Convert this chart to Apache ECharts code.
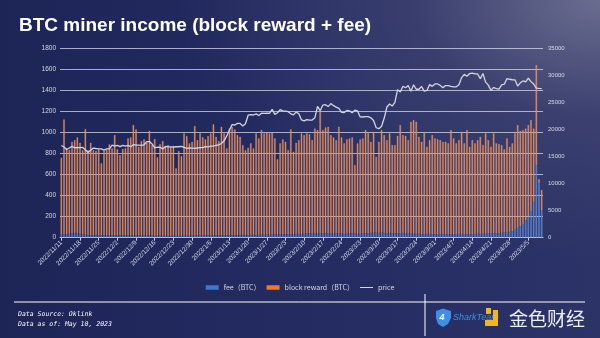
<!DOCTYPE html>
<html>
<head>
<meta charset="utf-8">
<script src="https://cdn.jsdelivr.net/npm/echarts@6/dist/echarts.min.js"></script>
<style>
  html, body { margin: 0; padding: 0; }
  body {
    width: 600px; height: 338px; overflow: hidden;
    background:
      radial-gradient(ellipse 420px 260px at 100% 0%, rgba(110,112,145,0.95) 0%, rgba(70,74,118,0.55) 45%, rgba(0,0,0,0) 100%),
      linear-gradient(90deg, #1d2456 0%, #252c62 55%, #2c3367 100%);
  }
  #chart { width: 600px; height: 338px; }
</style>
</head>
<body>
<div id="chart"></div>
<script>
// Daily categories: 2022/11/11 through 2023/5/10
const startDate = new Date(2022, 10, 11);
const dayCount = 181;
const dates = [];
for (let i = 0; i < dayCount; i++) {
  const d = new Date(startDate.getFullYear(), startDate.getMonth(), startDate.getDate() + i);
  dates.push(d.getFullYear() + '/' + (d.getMonth() + 1) + '/' + d.getDate());
}

// Transaction fees per day (BTC)
const feeBTC = [
  28, 30, 33, 38, 42, 45, 40, 35, 30, 27, 26,
  24, 23, 25, 22, 24, 23, 22, 24, 21, 22, 23, 21, 20, 22, 21, 20, 19, 21, 20, 19,
  18, 19, 20, 18, 17, 18, 19, 17, 18, 17, 16, 18, 17, 16, 17, 18, 19, 17, 18, 19, 20, 18, 19, 20, 21, 19, 20, 21, 22, 21,
  22, 24, 25, 23, 24, 22, 23, 25, 24, 23, 25, 26, 24, 25, 27, 26, 28, 27, 29, 30, 28, 30, 32, 31, 33, 34, 32, 35, 36, 34,
  38, 40, 42, 45, 43, 40, 38, 41, 44, 42, 39, 37, 40, 38, 36, 35, 37, 39, 41, 38, 36, 35, 38, 40, 42,
  44, 46, 48, 45, 47, 44, 42, 45, 43, 41, 40, 42, 44, 41, 39, 38,
  36, 35, 37, 34, 33, 35, 36, 34, 32, 33, 35, 34, 33, 31, 32, 34, 33, 35, 36, 34, 33, 32, 34, 35, 37, 36, 38, 37, 39,
  40, 42, 41, 43, 45, 48,
  48, 55, 62, 75, 95, 110, 130, 165, 200, 250, 340, 692, 520, 260
];

// Block subsidy per day (BTC)
const rewardBTC = [
  734, 1097, 818, 797, 872, 885, 916, 870, 805, 1008, 809,
  881, 812, 804, 820, 684, 806, 813, 865, 830, 956, 819, 767, 825, 829, 925, 936, 1054, 1011, 847, 902,
  919, 889, 999, 865, 923, 748, 873, 904, 849, 866, 851, 858, 644, 810, 761, 976, 949, 882, 896, 1045,
  910, 976, 937, 917, 947, 975, 1060, 941, 899, 1036,
  972, 827, 1017, 1034, 1008, 956, 939, 858, 811, 834, 874, 825, 970, 921, 999, 968, 972, 967, 971, 916,
  719, 869, 905, 883, 802, 998, 787, 870, 894, 960,
  940, 954, 945, 885, 997, 986, 1162, 985, 1007, 1015, 939, 919, 890, 1019, 920, 864, 900, 907, 915, 654,
  863, 902, 908, 986, 952,
  870, 964, 723, 869, 979, 934, 888, 949, 840, 842, 931, 1031, 934, 930, 891, 1067,
  1085, 1070, 925, 880, 977, 832, 894, 944, 914, 904, 895, 880, 881, 868, 994, 912, 866, 895, 974, 865,
  993, 835, 896, 864, 893, 926, 845, 957, 891,
  827, 952, 858, 849, 838, 794,
  898, 812, 837, 919, 978, 909, 896, 875, 873, 871, 700, 953, 40, 195
];

// BTC price (USD)
const priceUSD = [
  17070, 16800, 16330, 16620, 16900, 16660, 16680, 16690, 16700, 16280, 15780, 16190, 16600, 16520, 16460, 16440, 16220, 16440, 16440, 17160,
  16970, 17090, 16880, 17110, 16970, 17090, 16840, 17230, 17130, 17130, 17090, 17210, 17780, 17810, 17360, 16630, 16780, 16740, 16440, 16900, 16820, 16830, 16780, 16840, 16840, 16920, 16710, 16550, 16640, 16600, 16540,
  16610, 16670, 16670, 16850, 16830, 16950, 16940, 17120, 17180, 17440, 17940, 18850, 19930, 20950, 20870, 21170, 21160, 20690, 21090, 22680, 22780, 22720, 22930, 22630, 23060, 23010, 23080, 23030, 23770, 22840, 23140,
  23720, 23490, 23430, 23330, 22940, 22760, 23260, 22950, 21800, 21630, 21860, 21780, 21790, 22200, 24330, 23520, 24570, 24630, 24280, 24840, 24450, 24190, 23950, 23200, 23170, 23560, 23490, 23140,
  23630, 23470, 22360, 22350, 22430, 22410, 22200, 21700, 20360, 20190, 20630, 22160, 24200, 24750, 24380, 25050, 27420, 26970, 28040, 27770, 28170, 27130, 28330, 27490, 27490, 27990, 27140, 27270, 28350, 28030, 28480,
  28470, 28200, 27790, 28170, 28180, 28040, 27930, 27950, 28330, 29650, 30240, 29890, 30400, 30490, 30320, 30320, 29450, 30400, 28820, 28250, 27280, 27820, 27590, 27520, 28310, 28420, 29470, 29340, 29250, 29230,
  28090, 28680, 29030, 28850, 29530, 28900, 28450, 27690, 27650, 27620
];

const btcTicks = { min: 0, max: 1800, interval: 200 };
const usdTicks = { min: 0, max: 35000, interval: 5000 };

const seriesNames = ['fee（BTC）', 'block reward（BTC）', 'price'];

const chart = echarts.init(document.getElementById('chart'), null, { renderer: 'canvas' });

const labelColor = '#d6d9e8';
const plainNumber = v => String(v);

chart.setOption({
  backgroundColor: 'transparent',
  animation: false,
  title: {
    text: 'BTC miner income (block reward + fee)',
    left: 14, top: 11,
    textStyle: { color: '#ffffff', fontSize: 19, fontWeight: 'bold', fontFamily: 'Liberation Sans' }
  },
  legend: {
    data: [
      { name: seriesNames[0], icon: 'rect', itemStyle: { borderWidth: 0 } },
      { name: seriesNames[1], icon: 'rect', itemStyle: { borderWidth: 0 } },
      { name: seriesNames[2], icon: 'path://M0,0H26V2H0Z' }
    ],
    top: 279, left: 'center',
    itemWidth: 13, itemHeight: 4.5, itemGap: 6,
    textStyle: { color: labelColor, fontSize: 7, fontFamily: 'Noto Sans CJK SC' }
  },
  grid: { left: 60, right: 57, top: 48.7, bottom: 100.3, containLabel: false },
  xAxis: {
    type: 'category',
    data: dates,
    boundaryGap: true,
    axisLine: { lineStyle: { color: '#c9cce0', width: 1 } },
    axisTick: { show: true, interval: 6, alignWithLabel: true, length: 3, lineStyle: { color: '#c9cce0' } },
    axisLabel: { interval: 6, rotate: 45, color: labelColor, fontSize: 6.5, margin: 4, fontFamily: 'Liberation Sans' }
  },
  yAxis: [
    {
      type: 'value', min: btcTicks.min, max: btcTicks.max, interval: btcTicks.interval,
      axisLine: { show: false }, axisTick: { show: false },
      axisLabel: { color: labelColor, fontSize: 6.5, margin: 4, fontFamily: 'Liberation Sans', formatter: plainNumber },
      splitLine: { lineStyle: { color: 'rgba(215,218,235,0.75)', width: 1 } }
    },
    {
      type: 'value', min: usdTicks.min, max: usdTicks.max, interval: usdTicks.interval,
      axisLine: { show: false }, axisTick: { show: false },
      axisLabel: { color: labelColor, fontSize: 6, margin: 5, fontFamily: 'Liberation Sans', formatter: plainNumber },
      splitLine: { show: false }
    }
  ],
  series: [
    {
      name: seriesNames[0], type: 'bar', stack: 'income', yAxisIndex: 0,
      data: feeBTC, barWidth: '62%',
      itemStyle: { color: '#3f77cf', borderColor: 'rgba(190,200,235,0.4)', borderWidth: 0.5 }
    },
    {
      name: seriesNames[1], type: 'bar', stack: 'income', yAxisIndex: 0,
      data: rewardBTC, barWidth: '62%',
      itemStyle: { color: '#ee7a2c', borderColor: 'rgba(225,205,220,0.42)', borderWidth: 0.5 }
    },
    {
      name: seriesNames[2], type: 'line', yAxisIndex: 1,
      data: priceUSD, symbol: 'none', smooth: false,
      lineStyle: { color: '#d4d4dc', width: 1.3 },
      itemStyle: { color: '#d4d4dc' }, z: 5
    }
  ],
  graphic: [
    { type: 'line', shape: { x1: 14, y1: 302, x2: 585, y2: 302 }, style: { stroke: '#ffffff', lineWidth: 1 } },
    { type: 'line', shape: { x1: 425, y1: 294, x2: 425, y2: 336 }, style: { stroke: '#ffffff', lineWidth: 1 } },
    { type: 'text', x: 18, y: 311, style: { text: 'Data Source: Oklink', fill: '#ffffff', font: 'italic 6.5px "DejaVu Sans Mono"' } },
    { type: 'text', x: 18, y: 321, style: { text: 'Data as of: May 10, 2023', fill: '#ffffff', font: 'italic 6.5px "DejaVu Sans Mono"' } },
    { type: 'polygon', shape: { points: [[436, 311], [443, 308.5], [451, 311], [451, 318], [448, 324], [443, 327], [438, 324], [436, 318]] }, style: { fill: '#3d8fe8' } },
    { type: 'text', x: 439.5, y: 313, style: { text: '4', fill: '#ffffff', font: 'italic bold 9px "Liberation Sans"' } },
    { type: 'text', x: 453, y: 313, style: { text: 'SharkTeam', fill: '#3d8fe8', font: 'italic 9px "Liberation Sans"' } },
    { type: 'rect', shape: { x: 486, y: 308, width: 5, height: 6 }, style: { fill: '#f3b61f' } },
    { type: 'rect', shape: { x: 493, y: 310, width: 5, height: 16 }, style: { fill: '#f3b61f' } },
    { type: 'rect', shape: { x: 485, y: 320, width: 13, height: 6 }, style: { fill: '#f3b61f' } },
    { type: 'text', x: 509, y: 309, style: { text: '金色财经', fill: '#eceef5', font: '19px "Noto Sans CJK SC"' } }
  ]
});
</script>
</body>
</html>
